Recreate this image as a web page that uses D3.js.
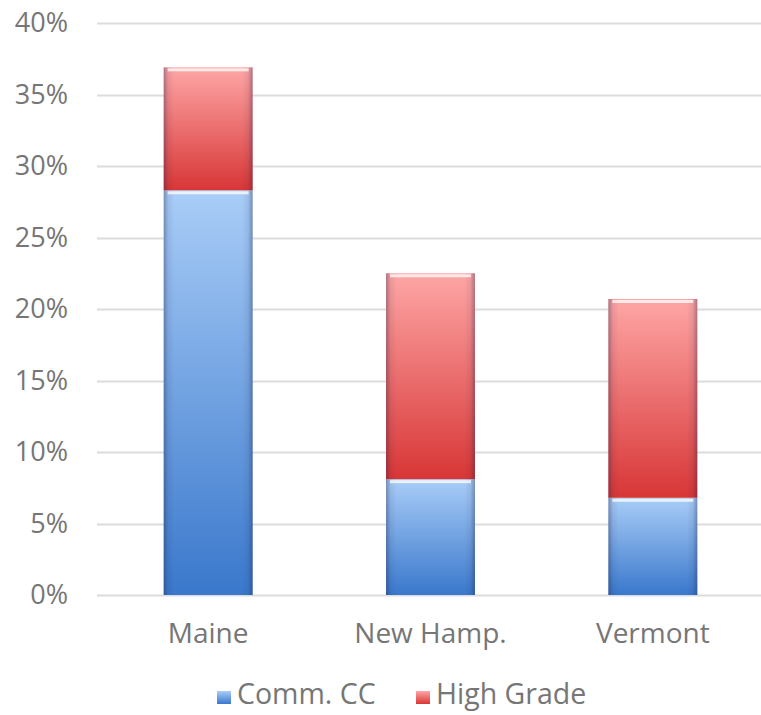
<!DOCTYPE html>
<html>
<head>
<meta charset="utf-8">
<script src="https://cdn.jsdelivr.net/npm/d3@7"></script>
<style>
  html, body { margin: 0; padding: 0; background: #fff; }
  svg { display: block; }
  text { font-family: "Open Sans", "Noto Sans", sans-serif; fill: #767676; }
</style>
</head>
<body>
<svg id="chart" width="761" height="715"></svg>
<script>
// Share of plans by state, split into two grades
const states = ["Maine", "New Hamp.", "Vermont"];
const commCC = [0.283, 0.081, 0.068];
const highGrade = [0.086, 0.144, 0.139];
const seriesNames = ["Comm. CC", "High Grade"];
const yTicks = [0, 0.05, 0.10, 0.15, 0.20, 0.25, 0.30, 0.35, 0.40];

const W = 761, H = 715;
const margin = { top: 23, right: -3, bottom: 120, left: 97 };
const svg = d3.select("#chart");

const x = d3.scaleBand()
  .domain(states)
  .range([margin.left, W - margin.right])
  .paddingInner(0.6)
  .paddingOuter(0.3);

const y = d3.scaleLinear()
  .domain([0, 0.40])
  .range([H - margin.bottom, margin.top]);

const defs = svg.append("defs");

// Vertical shading: light at the top, deeper toward the base
function vGrad(id, top, bottom) {
  const g = defs.append("linearGradient").attr("id", id)
    .attr("x1", 0).attr("y1", 0).attr("x2", 0).attr("y2", 1);
  g.append("stop").attr("offset", "0%").attr("stop-color", top);
  g.append("stop").attr("offset", "100%").attr("stop-color", bottom);
}
vGrad("gBlue", "#a9cdf7", "#3a78cc");
vGrad("gRed", "#fea6a6", "#d83636");

// Darkened side edges for a bevelled look
const edge = defs.append("linearGradient").attr("id", "gEdge")
  .attr("x1", 0).attr("y1", 0).attr("x2", 1).attr("y2", 0);
[[0, 0.35], [0.05, 0.08], [0.12, 0], [0.88, 0], [0.95, 0.08], [1, 0.35]].forEach(([o, a]) =>
  edge.append("stop").attr("offset", o).attr("stop-color", "#1a1a40").attr("stop-opacity", a));

// Gridlines
svg.append("g")
  .selectAll("line")
  .data(yTicks)
  .join("line")
  .attr("x1", margin.left).attr("x2", W)
  .attr("y1", d => Math.round(y(d)) + 0.5).attr("y2", d => Math.round(y(d)) + 0.5)
  .attr("stroke", "#dcdcdc").attr("stroke-width", 2);

// Y axis labels
const yAxis = d3.axisLeft(y).tickValues(yTicks).tickFormat(d3.format(".0%")).tickSize(0).tickPadding(0);
svg.append("g")
  .attr("transform", `translate(68,0)`)
  .call(yAxis)
  .call(g => g.select(".domain").remove())
  .call(g => g.selectAll("text")
    .attr("font-size", 27).attr("fill", "#777")
    .style("font-family", '"Open Sans", sans-serif'));

// X axis labels
const xAxis = d3.axisBottom(x).tickSize(0).tickPadding(0);
svg.append("g")
  .attr("transform", `translate(0,${y(0) + 28})`)
  .call(xAxis)
  .call(g => g.select(".domain").remove())
  .call(g => g.selectAll("text")
    .attr("font-size", 28).attr("fill", "#777")
    .style("font-family", '"Open Sans", sans-serif'));

// Stacked segments
const rows = states.map((s, i) => ({ state: s, "Comm. CC": commCC[i], "High Grade": highGrade[i] }));
const stacked = d3.stack().keys(seriesNames)(rows);
const fills = { "Comm. CC": "url(#gBlue)", "High Grade": "url(#gRed)" };

stacked.forEach(layer => {
  const g = svg.append("g");
  const segs = g.selectAll("g").data(layer).join("g");
  segs.append("rect")
    .attr("x", d => x(d.data.state))
    .attr("y", d => y(d[1]))
    .attr("width", x.bandwidth())
    .attr("height", d => y(d[0]) - y(d[1]))
    .attr("fill", fills[layer.key]);
  segs.append("rect")
    .attr("x", d => x(d.data.state))
    .attr("y", d => y(d[1]))
    .attr("width", x.bandwidth())
    .attr("height", d => y(d[0]) - y(d[1]))
    .attr("fill", "url(#gEdge)");
  // Thin highlight along the top edge
  segs.append("rect")
    .attr("x", d => x(d.data.state) + 4)
    .attr("y", d => y(d[1]) + 1)
    .attr("width", x.bandwidth() - 8)
    .attr("height", 3)
    .attr("fill", "#ffffff").attr("opacity", 0.75);
});

// Legend
const legend = svg.append("g").attr("transform", `translate(0,${H - 11})`);
const items = [
  { name: seriesNames[0], fill: "url(#gBlue)", x: 217 },
  { name: seriesNames[1], fill: "url(#gRed)", x: 416 }
];
items.forEach(it => {
  legend.append("rect").attr("x", it.x).attr("y", -13).attr("width", 14).attr("height", 13).attr("fill", it.fill);
  legend.append("text").attr("x", it.x + 20).attr("y", 0)
    .attr("font-size", 28.5).attr("fill", "#777").text(it.name);
});
</script>
</body>
</html>
